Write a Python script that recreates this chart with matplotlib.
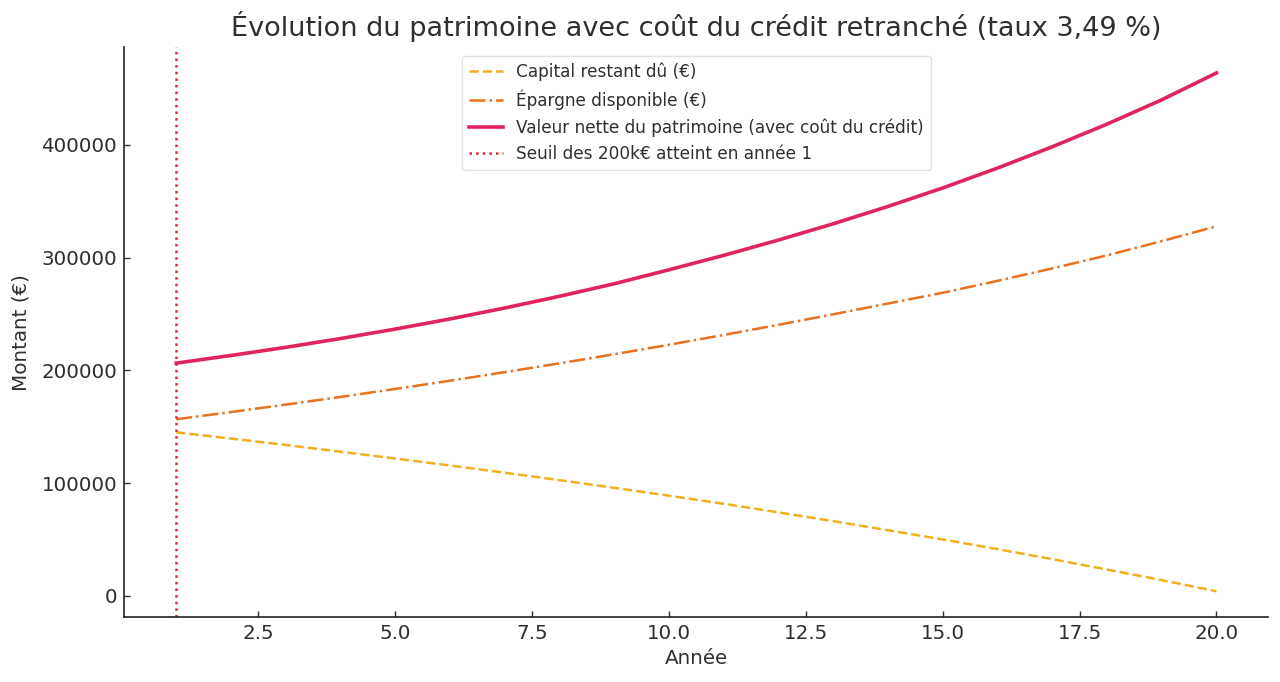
import matplotlib
matplotlib.use("Agg")
import matplotlib.pyplot as plt

annees = list(range(1, 21))
capital_restant = [145000, 139500, 133800, 127800, 121800, 115600, 109200, 102600, 95800, 88800,
                   81600, 74000, 66200, 58200, 50000, 41400, 32500, 23300, 13900, 4000]
epargne = [156600, 163000, 169600, 176400, 183500, 190800, 198400, 206200, 214300, 222700,
           231400, 240400, 249700, 259300, 268800, 279400, 290400, 302000, 314600, 327800]
valeur_nette = [206400, 213200, 220400, 228200, 236600, 245600, 255300, 265700, 276800, 289200,
                302000, 315600, 330000, 345400, 361800, 379400, 398300, 418400, 440000, 463800]
annee_seuil = 1

labels = ["Capital restant dû (€)", "Épargne disponible (€)",
          "Valeur nette du patrimoine (avec coût du crédit)",
          "Seuil des 200k€ atteint en année 1"]

plt.rcParams['font.family'] = ['DejaVu Sans']
txt = '#2f2f2f'
fig = plt.figure(figsize=(12.8, 6.82), dpi=100)
ax = fig.add_axes([0.097, 0.095, 0.894, 0.836])

ax.plot(annees, capital_restant, linestyle='--', color='#F2B01E', linewidth=1.8, label=labels[0])
ax.plot(annees, epargne, linestyle='-.', color='#E8711F', linewidth=1.8, label=labels[1])
ax.plot(annees, valeur_nette, linestyle='-', color='#E0245E', linewidth=2.6, label=labels[2])
ax.axvline(annee_seuil, linestyle=':', color='#E3263B', linewidth=1.8, label=labels[3])

ax.set_title("Évolution du patrimoine avec coût du crédit retranché (taux 3,49 %)",
             fontsize=19.5, color=txt, pad=8)
ax.set_xlabel("Année", fontsize=14.3, color=txt, labelpad=4)
ax.set_ylabel("Montant (€)", fontsize=14.3, color=txt, labelpad=8)
ax.tick_params(labelsize=14.3, colors=txt, direction='in', length=4.3, width=1.0, pad=5)
for s in ['top', 'right']:
    ax.spines[s].set_visible(False)
for s in ['left', 'bottom']:
    ax.spines[s].set_color('#222222')
    ax.spines[s].set_linewidth(1.2)

leg = ax.legend(loc='upper center', fontsize=12.2, frameon=True, labelcolor=txt)
leg.get_frame().set_edgecolor('#dddddd')

fig.savefig("out.png", dpi=100)
